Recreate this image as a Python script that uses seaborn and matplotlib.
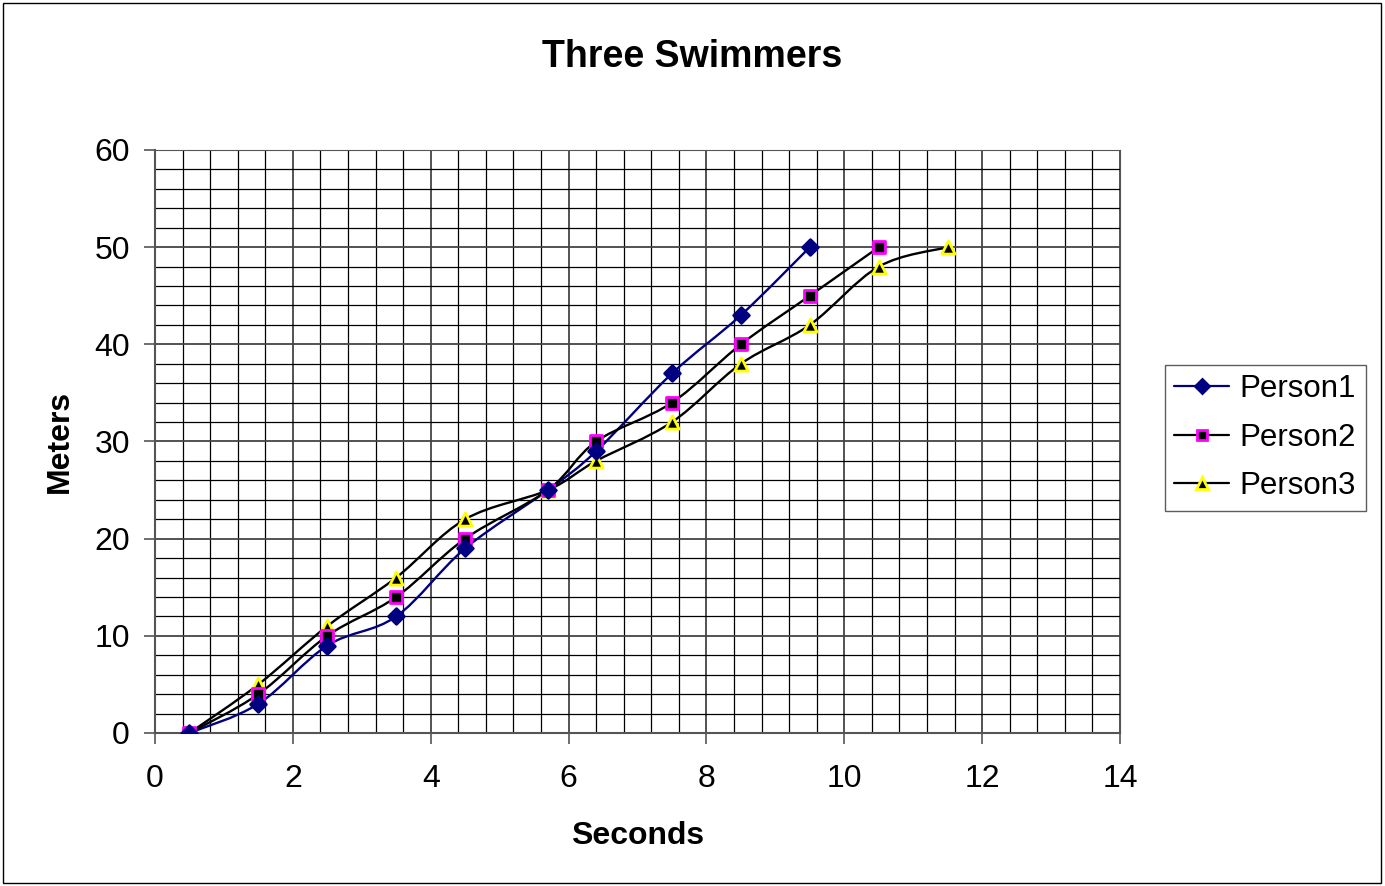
import matplotlib
matplotlib.use('Agg')
import matplotlib.pyplot as plt
from matplotlib.path import Path
from matplotlib.patches import PathPatch, Rectangle
from matplotlib.lines import Line2D
from matplotlib.ticker import MultipleLocator
import numpy as np
import pandas as pd
import seaborn as sns

# data
seconds = [0.5, 1.5, 2.5, 3.5, 4.5, 5.7, 6.4, 7.5, 8.5, 9.5, 10.5, 11.5]
person1 = [0, 3, 9, 12, 19, 25, 29, 37, 43, 50]
person2 = [0, 4, 10, 14, 20, 25, 30, 34, 40, 45, 50]
person3 = [0, 5, 11, 16, 22, 25, 28, 32, 38, 42, 48, 50]
names = ['Person1', 'Person2', 'Person3']

styles = {
    'Person1': dict(line='#000080', marker='D', face='#000080', edge='#000080', ms=8),
    'Person2': dict(line='black', marker='s', face='black', edge='#FF00FF', ms=8.5),
    'Person3': dict(line='black', marker='^', face='black', edge='#FFFF00', ms=9.5),
}


def smooth_path(xs, ys):
    # Excel style smoothed line: cubic bezier through the points
    pts = np.column_stack([xs, ys]).astype(float)
    n = len(pts)
    verts = [pts[0]]
    codes = [Path.MOVETO]
    for i in range(n - 1):
        p0 = pts[i - 1] if i > 0 else pts[i]
        p1 = pts[i]
        p2 = pts[i + 1]
        p3 = pts[i + 2] if i + 2 < n else pts[i + 1]
        c1 = p1 + (p2 - p0) / 6
        c2 = p2 - (p3 - p1) / 6
        verts += [c1, c2, p2]
        codes += [Path.CURVE4] * 3
    return Path(verts, codes)


sns.set_style('white')
plt.rcParams['font.family'] = ['Liberation Sans', 'DejaVu Sans']
plt.rcParams['text.color'] = 'black'
plt.rcParams['axes.labelcolor'] = 'black'
plt.rcParams['xtick.color'] = 'black'
plt.rcParams['ytick.color'] = 'black'

fig = plt.figure(figsize=(13.85, 8.86), dpi=100)
ax = fig.add_axes([0.1119, 0.1727, 0.6968, 0.658])

frames = []
for name, vals in zip(names, [person1, person2, person3]):
    frames.append(pd.DataFrame({'Seconds': seconds[:len(vals)], 'Meters': vals, 'who': name}))
df = pd.concat(frames, ignore_index=True)

for name in names:
    sub = df[df['who'] == name]
    st = styles[name]
    ax.add_patch(PathPatch(smooth_path(sub['Seconds'], sub['Meters']), fill=False,
                           edgecolor=st['line'], lw=1.7, zorder=3))

for name in names[::-1]:
    sub = df[df['who'] == name]
    st = styles[name]
    sns.scatterplot(data=sub, x='Seconds', y='Meters', ax=ax, marker=st['marker'],
                    color=st['face'], edgecolor=st['edge'], linewidth=2,
                    s=st['ms'] ** 2, zorder=4, legend=False)

ax.set_xlim(0, 14)
ax.set_ylim(0, 60)
ax.xaxis.set_major_locator(MultipleLocator(2))
ax.xaxis.set_minor_locator(MultipleLocator(0.4))
ax.yaxis.set_major_locator(MultipleLocator(10))
ax.yaxis.set_minor_locator(MultipleLocator(2))
ax.grid(True, which='major', color='#444444', lw=1.3)
ax.grid(True, which='minor', color='black', lw=0.9)
ax.set_axisbelow(True)
ax.tick_params(axis='both', which='major', direction='out', length=8, width=1.2,
               color='#555555', labelsize=23, left=True, bottom=True)
ax.tick_params(axis='x', which='major', pad=14)
ax.tick_params(axis='y', which='major', pad=10)
ax.tick_params(axis='both', which='minor', length=0)
for side in ['left', 'bottom']:
    ax.spines[side].set_color('#555555')
    ax.spines[side].set_linewidth(1.5)
for side in ['top', 'right']:
    ax.spines[side].set_color('#555555')
    ax.spines[side].set_linewidth(0.8)

ax.set_xlabel('Seconds', fontsize=23, fontweight='bold', labelpad=20)
ax.set_ylabel('Meters', fontsize=23, fontweight='bold', labelpad=14)
fig.text(0.5, 0.936, 'Three Swimmers', ha='center', va='center',
         fontsize=27, fontweight='bold')

handles = []
for name in names:
    st = styles[name]
    handles.append(Line2D([0], [0], color=st['line'], lw=1.6, marker=st['marker'],
                          markerfacecolor=st['face'], markeredgecolor=st['edge'],
                          markeredgewidth=2, markersize=st['ms'] * 0.9))
leg = fig.legend(handles, names, loc='center left', bbox_to_anchor=(0.841, 0.506),
                 fontsize=22.5, frameon=True, fancybox=False, edgecolor='#333333',
                 handlelength=1.75, handletextpad=0.35, labelspacing=0.6,
                 borderpad=0.3, borderaxespad=0)
leg.get_frame().set_linewidth(1)

fig.patches.append(Rectangle((0.002, 0.003), 0.995, 0.994, transform=fig.transFigure,
                             fill=False, edgecolor='black', lw=1))

plt.savefig('out.png', dpi=100)
